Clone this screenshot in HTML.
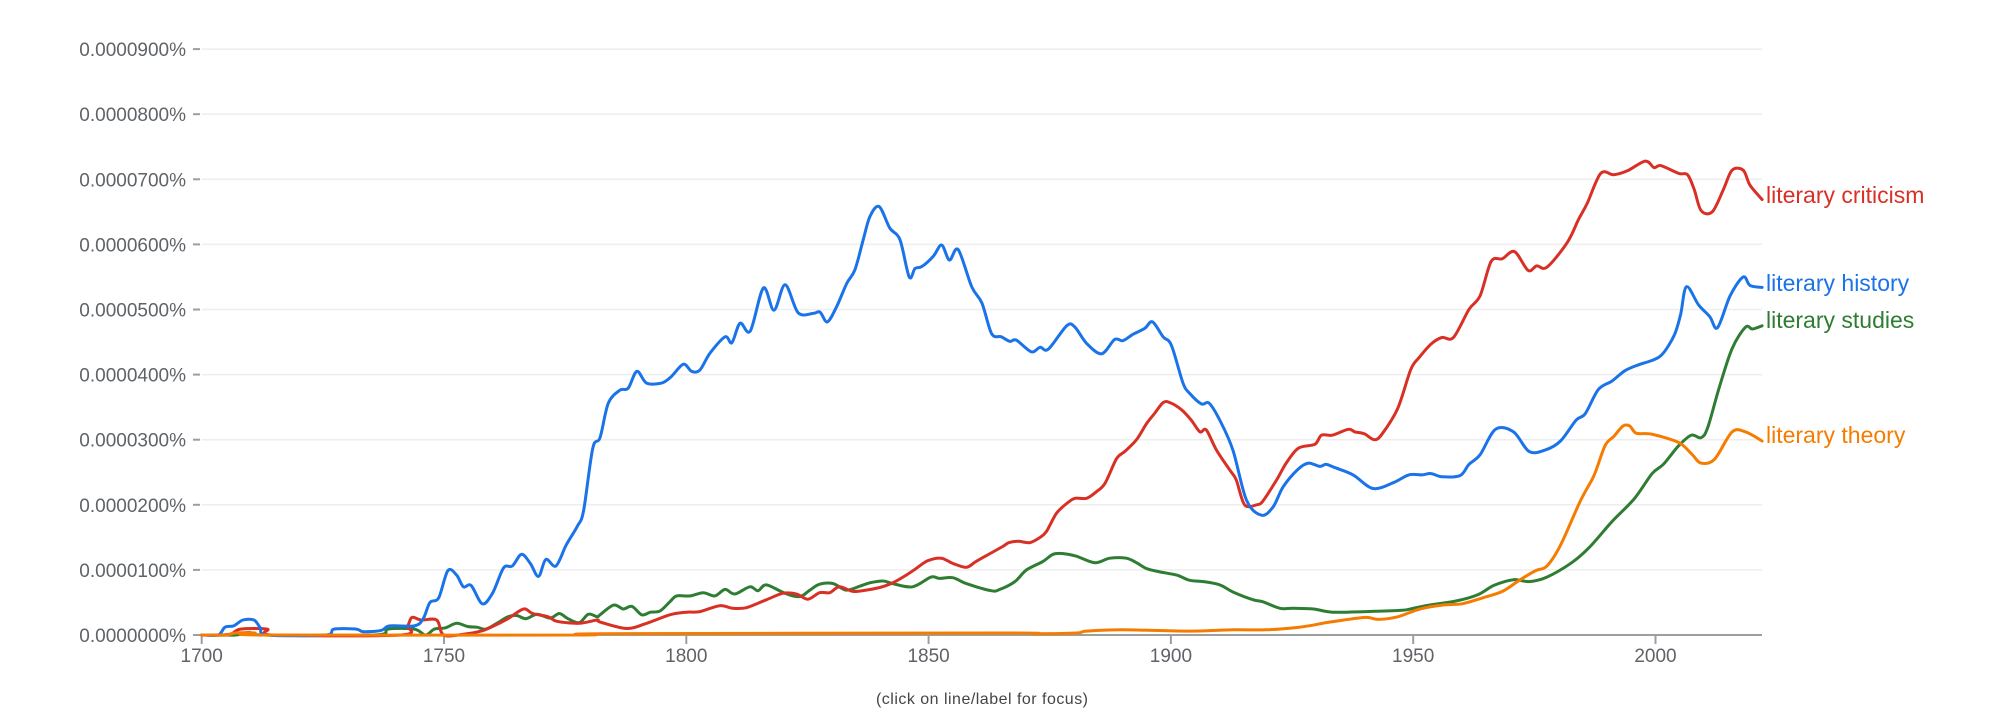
<!DOCTYPE html>
<html><head><meta charset="utf-8"><style>
html,body{margin:0;padding:0;background:#fff;}
svg{display:block;}
text{font-family:"Liberation Sans",sans-serif;}
</style></head><body>
<svg id="c" width="2000" height="725" viewBox="0 0 2000 725" xmlns="http://www.w3.org/2000/svg">
<g id="grid" stroke="#eeeeee" stroke-width="1.5"></g>
<g id="ylab" fill="#5f6368" font-size="19" text-anchor="end"></g>
<g id="xlab" fill="#5f6368" font-size="19" text-anchor="middle"></g>
<line x1="201.7" y1="635" x2="1762" y2="635" stroke="#9e9e9e" stroke-width="2"/>
<g id="series" fill="none" stroke-width="3" stroke-linejoin="round" stroke-linecap="round"></g>
<text x="1766" y="203" font-size="23" fill="#d93025">literary criticism</text>
<text x="1766" y="291" font-size="23" fill="#1a73e8">literary history</text>
<text x="1766" y="328" font-size="23" fill="#2e7d32">literary studies</text>
<text x="1766" y="443" font-size="23" fill="#f57c00">literary theory</text>
<text x="982" y="704" font-size="16" fill="#444" text-anchor="middle" textLength="212">(click on line/label for focus)</text>
</svg>
<script>
var NS="http://www.w3.org/2000/svg";
function X(y){return 201.7+(y-1700)*4.846;}
function Y(v){return 635-v*65.1;}
function el(t,a,p,txt){var e=document.createElementNS(NS,t);for(var k in a)e.setAttribute(k,a[k]);if(txt)e.textContent=txt;document.getElementById(p).appendChild(e);}
for(var i=0;i<=9;i++){var y=Y(i);
 if(i>0)el('line',{x1:201.7,x2:1762,y1:y,y2:y},'grid');
 el('line',{x1:193,x2:200,y1:y,y2:y,stroke:'#9e9e9e','stroke-width':2},'grid');
 el('text',{x:186,y:y+7},'ylab','0.0000'+(i*100).toString().padStart(3,'0')+'%');}
for(var yr=1700;yr<=2000;yr+=50){var x=X(yr);
 el('line',{x1:x,x2:x,y1:635,y2:644,stroke:'#9e9e9e','stroke-width':2},'grid');
 el('text',{x:x,y:662},'xlab',''+yr);}
var blue=[[1700,0],[1703.4,0],[1704.8,.12],[1706.6,.14],[1708.5,.23],[1710.8,.23],[1712.1,.11],[1713.5,0],[1725.5,0],[1727.3,.09],[1731.9,.09],[1733.3,.05],[1737,.07],[1738.8,.14],[1743.9,.14],[1745.7,.25],[1747.1,.5],[1748.9,.57],[1750.8,.99],[1752.6,.92],[1754,.74],[1755.6,.76],[1757.9,.48],[1760,.64],[1762.3,1.03],[1764.1,1.06],[1766,1.24],[1767.8,1.1],[1769.5,.9],[1771,1.16],[1773.1,1.06],[1775.2,1.38],[1777.5,1.67],[1778.8,1.91],[1780.7,2.87],[1782.2,3.03],[1783.9,3.56],[1786.3,3.76],[1788,3.79],[1789.8,4.05],[1791.8,3.87],[1794.9,3.87],[1796.9,3.97],[1799.4,4.16],[1801.1,4.05],[1802.8,4.07],[1804.9,4.33],[1808,4.58],[1809.4,4.49],[1811.1,4.79],[1813.2,4.67],[1815.9,5.33],[1818.1,4.99],[1820.4,5.38],[1823.1,4.95],[1826.2,4.94],[1827.6,4.96],[1829.1,4.81],[1831,5.04],[1833.1,5.4],[1834.8,5.61],[1836.5,6.07],[1837.9,6.43],[1839.8,6.58],[1842,6.25],[1844.1,6.07],[1846,5.5],[1847.2,5.63],[1848.6,5.66],[1851,5.82],[1852.7,5.99],[1854.3,5.76],[1856.1,5.92],[1858.9,5.35],[1861,5.1],[1863,4.63],[1865,4.58],[1866.8,4.51],[1868.1,4.53],[1871.2,4.35],[1873,4.42],[1874.7,4.39],[1878.5,4.75],[1880.2,4.73],[1882.6,4.48],[1885.7,4.32],[1888.4,4.54],[1890.1,4.52],[1892.2,4.62],[1894.6,4.71],[1896.2,4.81],[1898.4,4.58],[1900.1,4.45],[1902.5,3.87],[1903.9,3.71],[1906.3,3.55],[1907.9,3.56],[1910.1,3.3],[1912.8,2.84],[1915.6,2.07],[1918.7,1.84],[1921.1,1.97],[1923.2,2.28],[1926.3,2.55],[1928.4,2.64],[1930.7,2.59],[1932,2.62],[1933.9,2.57],[1937.6,2.46],[1941.7,2.25],[1945.9,2.34],[1949.1,2.46],[1951.8,2.46],[1953.7,2.48],[1956,2.43],[1959.7,2.45],[1961.5,2.62],[1963.8,2.77],[1967,3.16],[1970.7,3.12],[1973.9,2.82],[1977.2,2.84],[1980.4,2.98],[1983.6,3.3],[1985.5,3.4],[1988.2,3.77],[1991,3.9],[1993.7,4.06],[1996.5,4.15],[1999.7,4.23],[2001.6,4.33],[2003.9,4.61],[2005.2,4.93],[2006.4,5.35],[2008.9,5.07],[2011.2,4.89],[2012.8,4.72],[2015.4,5.21],[2018.1,5.5],[2019.5,5.37],[2022,5.34]];
var red=[[1700,0],[1704.3,0],[1706.2,.02],[1708,.09],[1713.5,.09],[1714.9,0],[1741,0],[1742.5,.14],[1743.4,.27],[1745.3,.23],[1748.5,.23],[1749.9,0],[1754,.01],[1757.7,.06],[1760,.13],[1763.2,.25],[1766.4,.4],[1768.3,.33],[1771.5,.28],[1773.3,.21],[1777.9,.18],[1781.6,.23],[1782.2,.2],[1787.7,.1],[1791.8,.18],[1796.6,.31],[1800,.35],[1802.8,.36],[1806.9,.45],[1809.6,.41],[1812.4,.42],[1816.5,.54],[1819.9,.64],[1822.7,.63],[1825.1,.55],[1827.5,.65],[1829.6,.65],[1831.6,.74],[1834.4,.67],[1837.1,.69],[1839.9,.73],[1842.6,.8],[1845.4,.92],[1847.4,1.02],[1849.8,1.14],[1852.6,1.18],[1855,1.1],[1857.8,1.04],[1859.8,1.13],[1862.9,1.26],[1865.3,1.36],[1866.6,1.42],[1868.5,1.44],[1870.9,1.42],[1873,1.5],[1874.3,1.59],[1876.4,1.87],[1878.5,2.02],[1880.2,2.1],[1882.6,2.1],[1884.6,2.2],[1886.4,2.33],[1888.8,2.71],[1890.5,2.82],[1892.9,3],[1895,3.25],[1896.7,3.41],[1898.4,3.57],[1899.8,3.57],[1902.2,3.46],[1904.2,3.3],[1906,3.12],[1907.3,3.15],[1909.4,2.84],[1912.2,2.53],[1913.5,2.38],[1915.2,2],[1917.7,2],[1919,2.06],[1921.8,2.38],[1923.8,2.64],[1926.3,2.87],[1929.7,2.93],[1931.1,3.07],[1933.4,3.07],[1936.6,3.16],[1938,3.12],[1939.9,3.09],[1942,3],[1943.6,3.09],[1946.8,3.48],[1949.5,4.08],[1951.2,4.26],[1953.7,4.47],[1955.9,4.57],[1958.3,4.57],[1961.5,5],[1963.8,5.21],[1966.1,5.74],[1968.4,5.78],[1970.9,5.89],[1973.7,5.6],[1975.5,5.67],[1977.6,5.65],[1981.8,6.03],[1984.1,6.38],[1985.9,6.63],[1988.7,7.09],[1991.4,7.07],[1994.2,7.13],[1997.9,7.28],[1999.7,7.18],[2001.1,7.21],[2004.8,7.09],[2006.6,7.07],[2008,6.84],[2009.4,6.52],[2011.7,6.5],[2014,6.84],[2015.8,7.14],[2018.1,7.14],[2019.5,6.91],[2022,6.69]];
var green=[[1700,0],[1707,0],[1709.8,.04],[1712.6,0],[1735.6,0],[1738.4,.09],[1743.9,.09],[1746.2,0],[1748,.09],[1750.3,.11],[1752.6,.18],[1754.9,.13],[1756.8,.12],[1758.6,.09],[1760.9,.18],[1763.2,.28],[1765,.3],[1766.9,.25],[1769.2,.32],[1771.9,.26],[1773.8,.33],[1775.6,.25],[1777.9,.19],[1779.8,.32],[1781.6,.28],[1782.2,.31],[1785,.46],[1787,.4],[1788.8,.44],[1790.8,.31],[1792.6,.35],[1794.6,.37],[1796.6,.51],[1798,.6],[1800.8,.6],[1803.5,.65],[1805.9,.6],[1808,.7],[1810,.63],[1813.1,.74],[1814.8,.68],[1816.5,.77],[1820.4,.64],[1823.4,.59],[1825.5,.69],[1827.5,.78],[1830.3,.79],[1833,.69],[1835.8,.75],[1837.8,.8],[1840.6,.83],[1842.6,.79],[1846.7,.74],[1850.5,.89],[1852.2,.87],[1855,.88],[1857.8,.79],[1862.9,.68],[1864.7,.7],[1867.8,.82],[1870.2,1],[1873.6,1.13],[1875.7,1.24],[1877.8,1.25],[1880.5,1.21],[1884.3,1.11],[1887.4,1.18],[1890.8,1.18],[1892.9,1.11],[1895,1.02],[1897.7,.97],[1901.2,.92],[1903.9,.84],[1906.7,.82],[1910.1,.77],[1912.8,.66],[1917,.54],[1919,.51],[1922.5,.41],[1925.2,.41],[1929.4,.4],[1933.4,.35],[1940.3,.36],[1947.7,.38],[1950,.41],[1953.3,.46],[1958.7,.52],[1963.4,.62],[1966.6,.76],[1970.7,.85],[1973.9,.82],[1977.6,.89],[1982.7,1.11],[1986.4,1.35],[1991,1.74],[1995.6,2.09],[1999.3,2.48],[2001.6,2.62],[2004.8,2.91],[2007.4,3.07],[2009.4,3.03],[2010.8,3.19],[2013.1,3.79],[2015.8,4.4],[2018.6,4.73],[2020,4.7],[2022,4.75]];
var orange=[[1700,0],[1705,0],[1707,.03],[1711,.03],[1713,0],[1778,0],[1782,.02],[1864.7,.03],[1872,.02],[1880.5,.03],[1882.6,.06],[1890,.08],[1903.2,.06],[1912.8,.08],[1919.7,.08],[1926.5,.12],[1930.7,.17],[1932,.19],[1935.7,.23],[1940.3,.27],[1942.8,.24],[1946.8,.28],[1951.4,.4],[1956,.46],[1960.1,.48],[1964.3,.57],[1968.4,.67],[1972.1,.85],[1975.3,.99],[1977.6,1.06],[1980.4,1.38],[1984.5,2.06],[1987.3,2.45],[1989.6,2.91],[1991.4,3.05],[1993.3,3.21],[1994.7,3.21],[1996,3.1],[1998.8,3.09],[2002,3.03],[2005.2,2.94],[2007.6,2.77],[2009.4,2.64],[2012.2,2.7],[2015.8,3.12],[2018.6,3.12],[2022,2.98]];
function path(d){var p=d.map(function(q){return [X(q[0]),Y(q[1])];});var s='M'+p[0][0].toFixed(1)+','+p[0][1].toFixed(1);
 for(var i=0;i<p.length-1;i++){var p0=p[i-1]||p[i],p1=p[i],p2=p[i+1],p3=p[i+2]||p2;var t=0.16;
  s+='C'+(p1[0]+(p2[0]-p0[0])*t).toFixed(1)+','+(p1[1]+(p2[1]-p0[1])*t).toFixed(1)+' '+(p2[0]-(p3[0]-p1[0])*t).toFixed(1)+','+(p2[1]-(p3[1]-p1[1])*t).toFixed(1)+' '+p2[0].toFixed(1)+','+p2[1].toFixed(1);}
 return s;}
[[green,'#2e7d32'],[red,'#d93025'],[blue,'#1a73e8'],[orange,'#f57c00']].forEach(function(s){el('path',{d:path(s[0]),stroke:s[1]},'series');});
</script>
</body></html>
